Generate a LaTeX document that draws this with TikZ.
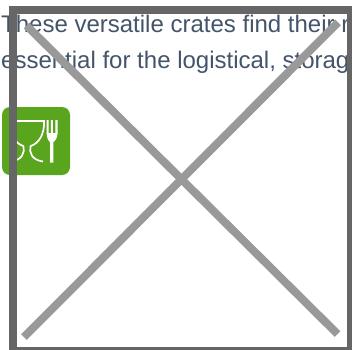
\documentclass[tikz,border=0pt]{standalone}
\usepackage{fontspec}
\setmainfont{Liberation Sans}
\definecolor{bodytext}{HTML}{44546A}
\definecolor{badge}{HTML}{5AA51E}
\definecolor{framegray}{HTML}{666666}
\definecolor{crossgray}{HTML}{999999}
\tikzset{
  bodyline/.style={anchor=base west,inner sep=0pt,text=bodytext,font=\fontsize{24}{36}\selectfont},
  iconline/.style={draw=white,line width=1.7pt},
  crossline/.style={draw=crossgray,line width=8pt},
  frameline/.style={draw=framegray,line width=8.4pt}
}
\begin{document}
\begin{tikzpicture}[x=1pt,y=-1pt]
\useasboundingbox (0,0) rectangle (352,349);
\clip (0,0) rectangle (352,349);
\fill[white] (0,0) rectangle (352,349);
\node[bodyline] (lineone) at (1,32) {These versatile crates find their range of uses};
\node[bodyline] (linetwo) at (1,68) {essential for the logistical, storage and transport};
\fill[badge,rounded corners=8pt] (2,107) rectangle (70,175);
\draw[iconline] (10,120.8) -- (44,120.8);
\draw[iconline] (10,120) .. controls (9,135) and (16,144) .. (23.5,146);
\draw[iconline] (44,120) .. controls (45,135) and (38,144) .. (30.5,146);
\draw[iconline] (23.5,146) .. controls (25,153) and (22,160) .. (11,161.5);
\draw[iconline] (30.5,146) .. controls (29,153) and (32,160) .. (43,161.5);
\fill[white] (46.7,120) rectangle (48.7,134) (50.8,120) rectangle (52.8,134) (55.3,120) rectangle (57.5,134);
\fill[white] (46.7,133) -- (57.5,133) .. controls (57.5,138) and (55,141) .. (53.4,142) -- (53.4,162.5) -- (50,162.5) -- (50,142) .. controls (48.5,141) and (46.7,138) .. (46.7,133) -- cycle;
\draw[crossline] (26.5,25.5) -- (337.5,334);
\draw[crossline] (338,22.5) -- (24,337);
\draw[frameline] (12.8,10) rectangle (351,351);
\end{tikzpicture}
\end{document}
